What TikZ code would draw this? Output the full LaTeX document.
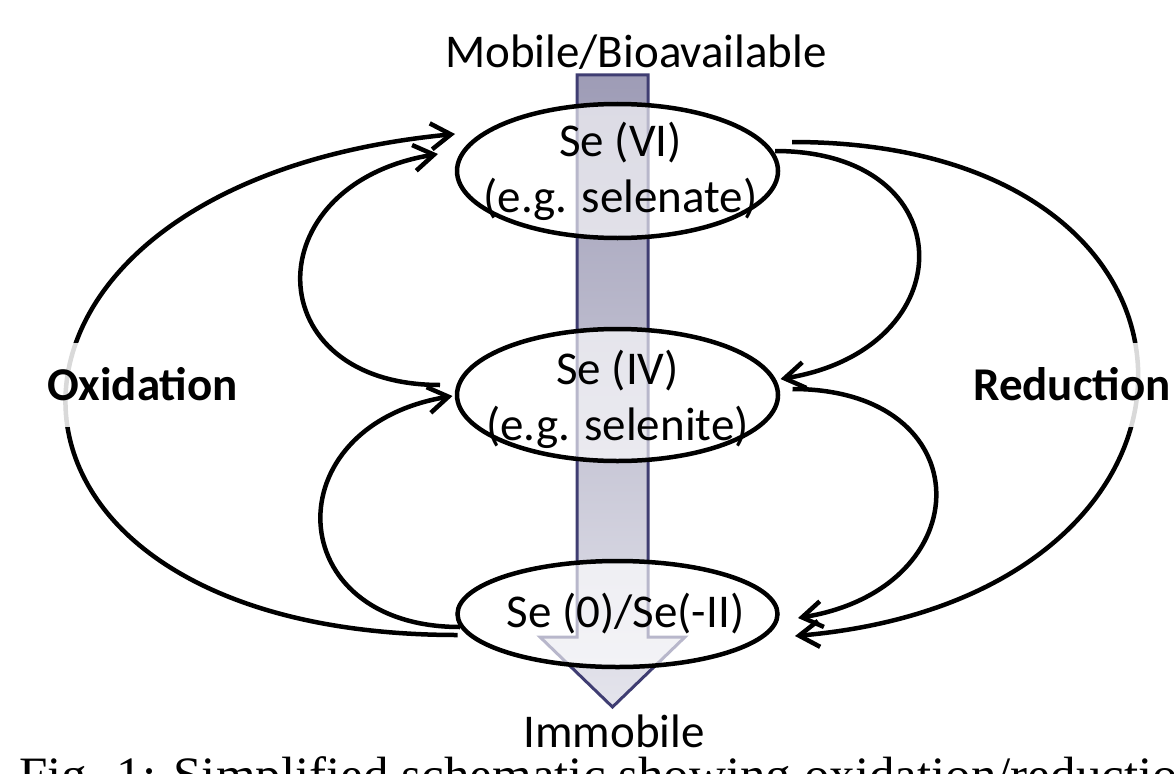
\documentclass[tikz,border=0pt]{standalone}
\usepackage{fontspec}
\setmainfont{Carlito}
\newfontfamily\capfont{Liberation Serif}
\usetikzlibrary{shapes.geometric,arrows.meta}
\definecolor{navy}{RGB}{63,61,114}
\definecolor{shadetop}{RGB}{158,156,182}
\definecolor{shadebot}{RGB}{228,228,236}
\begin{document}
\begin{tikzpicture}[x=1pt,y=-1pt,
  state/.style={ellipse, draw, line width=4.5pt, fill=white, fill opacity=0.63, inner sep=0pt, outer sep=0pt},
  flow/.style={line width=4.5pt, -{Straight Barb[length=20pt,width=26pt]}},
  proc/.style={font=\fontsize{47}{56}\selectfont\bfseries, fill=white, fill opacity=0.85, text opacity=1, text height=45pt, text depth=15pt, inner xsep=2pt, inner ysep=12pt, anchor=base west},
  lbl/.style={font=\fontsize{47}{56}\selectfont, inner sep=0pt, align=center}]
\useasboundingbox (0,0) rectangle (1174,773);
\clip (0,0) rectangle (1174,773);
% big vertical arrow
\path[draw=navy, line width=3pt, line join=miter, top color=shadetop, bottom color=shadebot]
  (577,75) -- (648,75) -- (648,637) -- (685,637) -- (612.5,707) -- (540,637) -- (577,637) -- cycle;
% oxidation states
\node[state, minimum width=321pt, minimum height=134pt] (e1) at (617.5,171) {};
\node[state, minimum width=321pt, minimum height=132pt] (e2) at (617.5,395) {};
\node[state, minimum width=320pt, minimum height=106pt] (e3) at (617.5,614) {};
\node[lbl] (t1) at ([xshift=3pt]e1.center) {Se (VI)\\(e.g. selenate)};
\node[lbl] (t2) at ([yshift=-4pt]e2.center) {Se (IV)\\(e.g. selenite)};
\node[lbl] (t3) at ([xshift=8pt]e3.center) {Se (0)/Se(-II)};
% oxidation arcs (left)
\draw[flow] ([yshift=-21pt]e3.west) .. controls +(-520,0) and +(-520,50) .. ([xshift=-2pt,yshift=37pt]e1.west);
\draw[flow] ([xshift=-17pt,yshift=10pt]e2.west) .. controls +(-184,0) and +(-184,30) .. ([xshift=-19pt,yshift=17pt]e1.west);
\draw[flow] ([xshift=2.5pt,yshift=-13pt]e3.west) .. controls +(-180,0) and +(-180,30) .. ([xshift=-4.5pt,yshift=-1pt]e2.west);
% reduction arcs (right)
\draw[flow] ([xshift=14pt,yshift=29pt]e1.east) .. controls +(460,0) and +(457,-40) .. ([xshift=17.5pt,yshift=-22pt]e3.east);
\draw[flow] ([xshift=-3pt,yshift=20pt]e1.east) .. controls +(190,0) and +(185,-30) .. ([xshift=2.5pt,yshift=16pt]e2.east);
\draw[flow] ([xshift=14.5pt,yshift=6pt]e2.east) .. controls +(190,0) and +(184,-30) .. ([xshift=20.5pt,yshift=-4pt]e3.east);
% labels
\node[proc] (ox) at (45,400) {Oxidation};
\node[proc] (red) at (971,400) {Reduction};
\node[lbl, anchor=base west] (mob) at (445,68) {Mobile/Bioavailable};
\node[lbl, anchor=base] (imm) at (614,747) {Immobile};
\node[anchor=base west, inner sep=0pt, font=\capfont\fontsize{51}{60}\selectfont] (cap) at (19,792) {Fig. 1: Simplified schematic showing oxidation/reduction};
\end{tikzpicture}
\end{document}
